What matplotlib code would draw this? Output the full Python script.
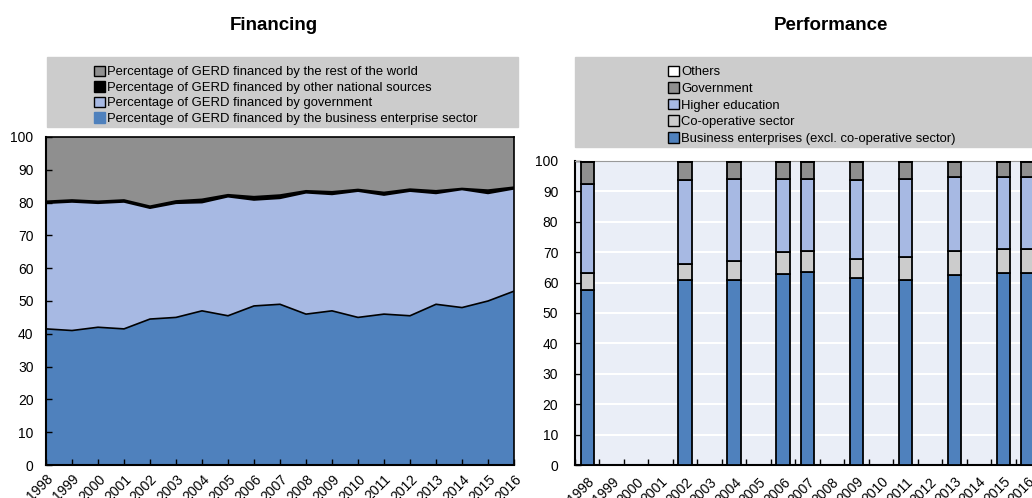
import matplotlib.pyplot as plt
import matplotlib.patches as mpatches
import numpy as np

#-------- fonts -------------
plt.rcParams['font.family'] = ['Liberation Sans Narrow', 'Liberation Sans', 'DejaVu Sans']
plt.rcParams['font.size'] = 10

#-------- data: financing ---------
years = list(range(1998, 2017))
fin_business = [41.5, 41.0, 42.0, 41.5, 44.5, 45.0, 47.0, 45.5, 48.5, 49.0,
                46.0, 47.0, 45.0, 46.0, 45.5, 49.0, 48.0, 50.0, 53.0]
fin_government = [38.3, 39.2, 37.8, 38.7, 33.8, 34.8, 33.0, 36.3, 32.3, 32.3,
                  37.0, 35.5, 38.5, 36.3, 38.0, 33.8, 36.0, 32.8, 31.2]
fin_other = [0.6, 0.6, 0.6, 0.6, 0.6, 0.7, 1.0, 0.6, 1.0, 1.0,
             0.6, 0.8, 0.5, 0.8, 0.6, 0.8, 0.3, 1.0, 0.5]
fin_world = [100 - a - b - c for a, b, c in zip(fin_business, fin_government, fin_other)]

fin_labels = ['Percentage of GERD financed by the business enterprise sector',
              'Percentage of GERD financed by government',
              'Percentage of GERD financed by other national sources',
              'Percentage of GERD financed by the rest of the world']

#-------- data: performance ---------
perf_years = [1998, 2002, 2004, 2006, 2007, 2009, 2011, 2013, 2015, 2016]
perf_business = [57.6, 60.9, 60.9, 62.9, 63.6, 61.4, 60.9, 62.5, 63.0, 63.0]
perf_coop = [5.4, 5.3, 6.3, 7.1, 6.8, 6.5, 7.5, 7.9, 8.1, 8.1]
perf_higher = [29.4, 27.5, 27.0, 24.1, 23.7, 25.7, 25.7, 24.3, 23.6, 23.6]
perf_gov = [7.2, 5.9, 5.4, 5.5, 5.5, 6.0, 5.5, 4.9, 4.9, 4.9]
perf_others = [0.4, 0.4, 0.4, 0.4, 0.4, 0.4, 0.4, 0.4, 0.4, 0.4]

perf_labels = ['Business enterprises (excl. co-operative sector)',
               'Co-operative sector', 'Higher education', 'Government', 'Others']

#-------- colours ---------
c_business = '#4F81BD'
c_gov = '#A7B9E3'
c_black = '#000000'
c_world = '#8F8F8F'
c_coop = '#CCCCCC'
c_white = '#FFFFFF'
c_bg = '#EAEEF7'
c_legbg = '#CCCCCC'

fig = plt.figure(figsize=(10.32, 4.98), dpi=100)

#---------------------------------------
#-------- left panel: financing --------
#---------------------------------------
ax1 = fig.add_axes([46/1032, 33/498, 468/1032, 328/498])
x = np.arange(len(years))
stack = np.vstack([fin_business, fin_government, fin_other, fin_world])
cols1 = [c_business, c_gov, c_black, c_world]
ax1.stackplot(x, stack, colors=cols1, linewidth=0)
cum = np.cumsum(stack, axis=0)
ax1.plot(x, cum[0], color='black', lw=1.2)
ax1.plot(x, cum[1], color='black', lw=1.2)
ax1.plot(x, cum[2], color='black', lw=1.2)
ax1.set_xlim(0, len(years) - 1)
ax1.set_ylim(0, 100)
ax1.set_yticks(range(0, 101, 10))
ax1.set_xticks(x)
ax1.set_xticklabels([str(y) for y in years], rotation=45, ha='right',
                    rotation_mode='anchor')
ax1.tick_params(direction='in', length=4, width=1, labelsize=10)
ax1.tick_params(axis='y', pad=9)
ax1.tick_params(axis='x', pad=5)
for s in ['left', 'bottom']:
    ax1.spines[s].set_linewidth(1.5)
for s in ['top', 'right']:
    ax1.spines[s].set_linewidth(1.2)

#----------------------------------------
#-------- right panel: performance ------
#----------------------------------------
ax2 = fig.add_axes([575/1032, 33/498, 465/1032, 304/498])
ax2.set_facecolor(c_bg)
pos = np.array([years.index(y) for y in perf_years])
bw = 0.55
bottom = np.zeros(len(perf_years))
cols2 = [c_business, c_coop, c_gov, c_world, c_white]
series2 = [perf_business, perf_coop, perf_higher, perf_gov, perf_others]
for vals, col in zip(series2, cols2):
    ax2.bar(pos, vals, bw, bottom=bottom, color=col, edgecolor='black',
            linewidth=1.3, zorder=3)
    bottom = bottom + np.array(vals)
ax2.set_xlim(-0.5, len(years) - 0.5)
ax2.set_ylim(0, 100)
ax2.set_yticks(range(0, 101, 10))
ax2.yaxis.grid(True, color='white', lw=1.5, zorder=0)
ax2.set_axisbelow(True)
ax2.set_xticks(np.arange(len(years)))
ax2.set_xticklabels([str(y) for y in years], rotation=45, ha='right',
                    rotation_mode='anchor')
ax2.set_xticks(np.arange(len(years) + 1) - 0.5, minor=True)
ax2.tick_params(axis='x', which='major', length=0, labelsize=10, pad=7)
ax2.tick_params(axis='x', which='minor', direction='in', length=4, width=1)
ax2.tick_params(axis='y', direction='in', length=4, width=1, labelsize=10, pad=12)
ax2.spines['left'].set_linewidth(1.5)
ax2.spines['bottom'].set_linewidth(1.5)
ax2.spines['top'].set_color('#999999')
ax2.spines['right'].set_visible(False)

#-------- titles ---------
fig.text(274/1032, 1 - 25/498, 'Financing', ha='center', va='center',
         fontsize=13.5, fontweight='bold')
fig.text(831/1032, 1 - 25/498, 'Performance', ha='center', va='center',
         fontsize=13.5, fontweight='bold')

#-------- legends ---------
fig.patches.append(mpatches.Rectangle((47/1032, 1 - 127/498), 471/1032, 70/498,
                                      transform=fig.transFigure, color=c_legbg,
                                      zorder=0))
fig.patches.append(mpatches.Rectangle((575/1032, 1 - 147/498), 460/1032, 90/498,
                                      transform=fig.transFigure, color=c_legbg,
                                      zorder=0))

h1 = [mpatches.Patch(facecolor=c_world, edgecolor='black', lw=1),
      mpatches.Patch(facecolor=c_black, edgecolor='black', lw=1),
      mpatches.Patch(facecolor=c_gov, edgecolor='black', lw=1),
      mpatches.Patch(facecolor=c_business, edgecolor=c_business, lw=1)]
leg1 = fig.legend(h1, fin_labels[::-1], loc='upper left',
                  bbox_to_anchor=(87/1032, 1 - 59/498), frameon=False,
                  fontsize=9.4, handlelength=0.85, handleheight=0.85,
                  handletextpad=0.2, labelspacing=0.22, borderpad=0)

h2 = [mpatches.Patch(facecolor=c, edgecolor='black', lw=1) for c in cols2[::-1]]
leg2 = fig.legend(h2, perf_labels[::-1], loc='upper left',
                  bbox_to_anchor=(661/1032, 1 - 59/498), frameon=False,
                  fontsize=9.4, handlelength=0.85, handleheight=0.85,
                  handletextpad=0.2, labelspacing=0.30, borderpad=0)

plt.savefig('out.png', dpi=100)
